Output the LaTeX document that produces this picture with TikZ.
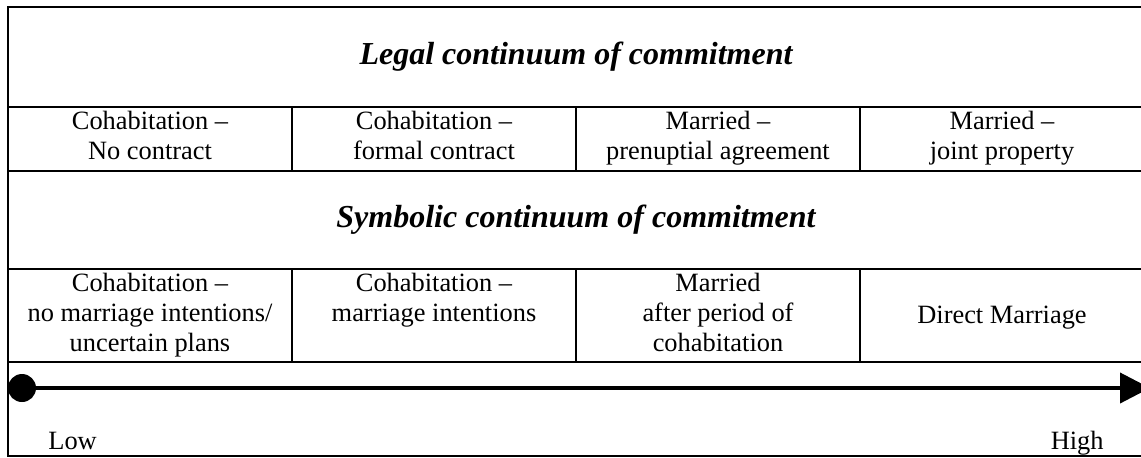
\documentclass[tikz,border=0pt]{standalone}
\usepackage{fontspec}
\setmainfont{Liberation Serif}
\usetikzlibrary{positioning,arrows.meta}

\begin{document}
\begin{tikzpicture}[
    x=0.5pt, y=-0.5pt,
    cell/.style = {draw, line width=1pt, outer sep=0pt, minimum width=142pt, inner sep=0pt, align=center, font=\fontsize{13.2}{15}\selectfont,
        execute at begin node=\rule{0pt}{11.4pt}, execute at end node=\rule[-3.6pt]{0pt}{3.6pt}},
    band/.style = {draw, line width=1pt, outer sep=0pt, minimum width=568pt, inner sep=0pt, align=center, font=\fontsize{16}{19}\selectfont\bfseries\itshape},
    label/.style = {font=\fontsize{13.2}{15}\selectfont, inner sep=0pt},
    > = {Triangle[length=15pt, width=15pt]}
]
\useasboundingbox (0,0) rectangle (1141,457);
\node (legal) [band, minimum height=50pt, anchor=north west] at (8,7) {Legal continuum of commitment};

\node (nc) [cell, minimum height=32pt, below right=0pt of legal.south west] {Cohabitation --\\ No contract};
\node (fc) [cell, minimum height=32pt, right=0pt of nc] {Cohabitation --\\ formal contract};
\node (pa) [cell, minimum height=32pt, right=0pt of fc] {Married --\\ prenuptial agreement};
\node (jp) [cell, minimum height=32pt, right=0pt of pa] {Married --\\ joint property};

\node (symb) [band, minimum height=49pt, below right=0pt of nc.south west] {Symbolic continuum of commitment};

\node (ni) [cell, minimum height=46.5pt, below right=0pt of symb.south west] {Cohabitation --\\ no marriage intentions/\\ uncertain plans};
\node (mi) [cell, minimum height=46.5pt, right=0pt of ni] {Cohabitation --\\ marriage intentions\\ };
\node (ap) [cell, minimum height=46.5pt, right=0pt of mi] {Married\\ after period of\\ cohabitation};
\node (dm) [cell, minimum height=46.5pt, right=0pt of ap] {Direct Marriage};

\node (scale) [band, minimum height=47pt, below right=0pt of ni.south west] {};

\node (start) [circle, fill, minimum size=14pt, inner sep=0pt] at (22,388) {};
\coordinate (end) at (1150,388);
\draw[->, line width=2pt] (start.center) -- (end);

\node (low) [label, anchor=base west] at (48,449) {Low};
\node (high) [label, anchor=base east] at (1104,449) {High};
\end{tikzpicture}
\end{document}
